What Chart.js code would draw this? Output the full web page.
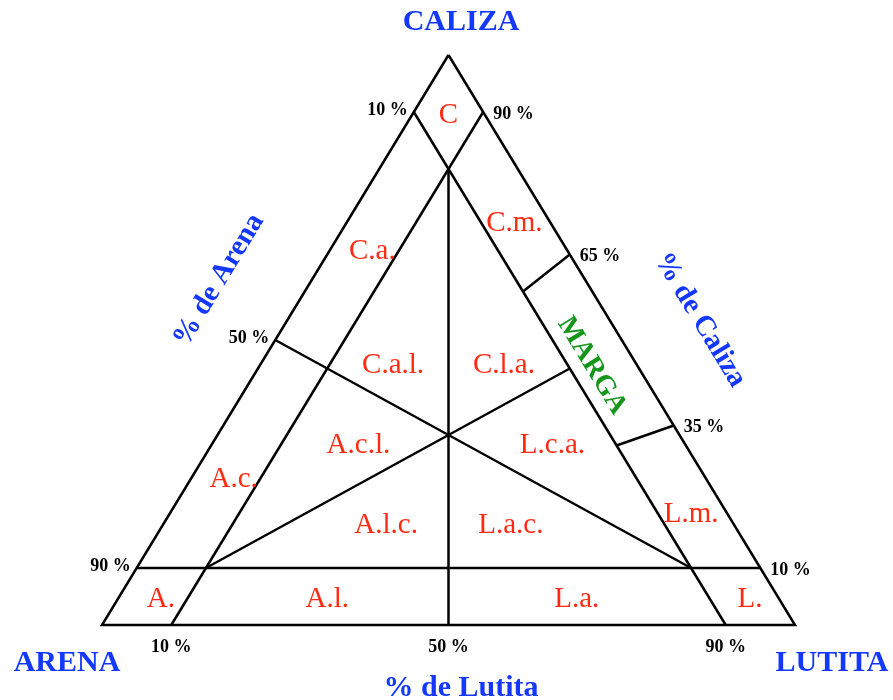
<!DOCTYPE html>
<html>
<head>
<meta charset="utf-8">
<title>Diagrama ternario Caliza - Arena - Lutita</title>
<script src="https://cdn.jsdelivr.net/npm/chart.js@4/dist/chart.umd.min.js"></script>
<style>
  body { margin: 0; background: #fff; }
  canvas { display: block; }
</style>
</head>
<body>
<canvas id="ternary" width="893" height="700"></canvas>
<script>
// all points are [caliza, arena, lutita] in %
const vertices = [[100, 0, 0], [0, 100, 0], [0, 0, 100]];

const boundaries = [
  [[90, 10, 0], [0, 10, 90]],     // 10 % arena
  [[90, 0, 10], [0, 90, 10]],     // 10 % lutita
  [[10, 90, 0], [10, 0, 90]],     // 10 % caliza
  [[80, 10, 10], [0, 50, 50]],
  [[10, 10, 80], [50, 50, 0]],
  [[10, 80, 10], [45, 10, 45]],
  [[65, 0, 35], [58.5, 10, 31.5]],  // marga top
  [[35, 0, 65], [31.5, 10, 58.5]]   // marga bottom
];

const fields = ['C', 'C.m.', 'C.a.', 'C.a.l.', 'C.l.a.', 'A.c.l.', 'L.c.a.', 'A.c.',
                'A.l.c.', 'L.a.c.', 'L.m.', 'A.', 'A.l.', 'L.a.', 'L.'];
const fieldPos = [[90, 5, 5], [71, 5, 24], [66, 28, 6], [46, 35, 19], [46, 19, 35],
                  [32, 47, 21], [32, 19, 49], [26, 68, 6], [18, 50, 32], [18, 32, 50],
                  [20, 5, 75], [5, 89, 6], [5, 65, 30], [5, 29, 66], [5, 4, 91]];
const margaPos = [46, 6, 48];

const arenaTicks = [10, 50, 90];
const calizaTicks = [90, 65, 35, 10];
const lutitaTicks = [10, 50, 90];

function toXY(p) {
  const c = p[0] / 100, l = p[2] / 100;
  return { x: l + c / 2, y: c };
}

const datasets = [];
datasets.push({ data: vertices.concat([vertices[0]]).map(toXY) });
boundaries.forEach(b => datasets.push({ data: b.map(toXY) }));
datasets.forEach(d => {
  d.showLine = true;
  d.borderColor = '#000';
  d.borderWidth = 2.5;
  d.pointRadius = 0;
  d.fill = false;
});

const RED = '#ff2a12', BLUE = '#1438ff', GREEN = '#15961a';

const textPlugin = {
  id: 'ternaryText',
  afterDatasetsDraw(chart) {
    const ctx = chart.ctx;
    const xs = chart.scales.x, ys = chart.scales.y;
    const px = p => { const q = toXY(p); return [xs.getPixelForValue(q.x), ys.getPixelForValue(q.y)]; };
    ctx.save();
    ctx.textBaseline = 'middle';

    ctx.fillStyle = RED;
    ctx.font = '29px "Liberation Serif"';
    ctx.textAlign = 'center';
    fields.forEach((f, i) => {
      const [x, y] = px(fieldPos[i]);
      ctx.fillText(f, x, y + 3);
    });

    // marga
    const ang = Math.atan2(570, 346);
    let [mx, my] = px(margaPos);
    ctx.save();
    ctx.translate(mx - 2, my + 3);
    ctx.rotate(ang);
    ctx.fillStyle = GREEN;
    ctx.font = 'bold 28px "Liberation Serif"';
    ctx.fillText('MARGA', 0, 0);
    ctx.restore();

    // tick labels
    ctx.fillStyle = '#000';
    ctx.font = 'bold 18px "Liberation Serif"';
    ctx.textAlign = 'right';
    arenaTicks.forEach(t => {
      const [x, y] = px([100 - t, t, 0]);
      ctx.fillText(t + ' %', x - 6, y - 2);
    });
    ctx.textAlign = 'left';
    calizaTicks.forEach(t => {
      const [x, y] = px([t, 0, 100 - t]);
      ctx.fillText(t + ' %', x + 10, y + 2);
    });
    ctx.textAlign = 'center';
    lutitaTicks.forEach(t => {
      const [x, y] = px([0, 100 - t, t]);
      ctx.fillText(t + ' %', x, y + 22);
    });

    // titles
    ctx.fillStyle = BLUE;
    ctx.font = 'bold 30px "Liberation Serif"';
    ctx.fillText('CALIZA', 461, 22);
    ctx.fillText('ARENA', 67, 663);
    ctx.fillText('LUTITA', 832, 663);
    ctx.fillText('% de Lutita', 461, 688);

    ctx.font = 'bold 29px "Liberation Serif"';
    ctx.save();
    ctx.translate(219, 280);
    ctx.rotate(-ang);
    ctx.fillText('% de Arena', 0, 0);
    ctx.restore();
    ctx.save();
    ctx.translate(700, 320);
    ctx.rotate(ang);
    ctx.fillText('% de Caliza', 0, 0);
    ctx.restore();

    ctx.restore();
  }
};

new Chart(document.getElementById('ternary'), {
  type: 'scatter',
  data: { datasets: datasets },
  options: {
    responsive: false,
    animation: false,
    layout: { padding: 0 },
    plugins: { legend: { display: false }, tooltip: { enabled: false } },
    scales: {
      x: { type: 'linear', display: false, min: -102 / 693, max: 1 + 98 / 693 },
      y: { type: 'linear', display: false, min: -75 / 570, max: 1 + 55 / 570 }
    }
  },
  plugins: [textPlugin]
});
</script>
</body>
</html>
